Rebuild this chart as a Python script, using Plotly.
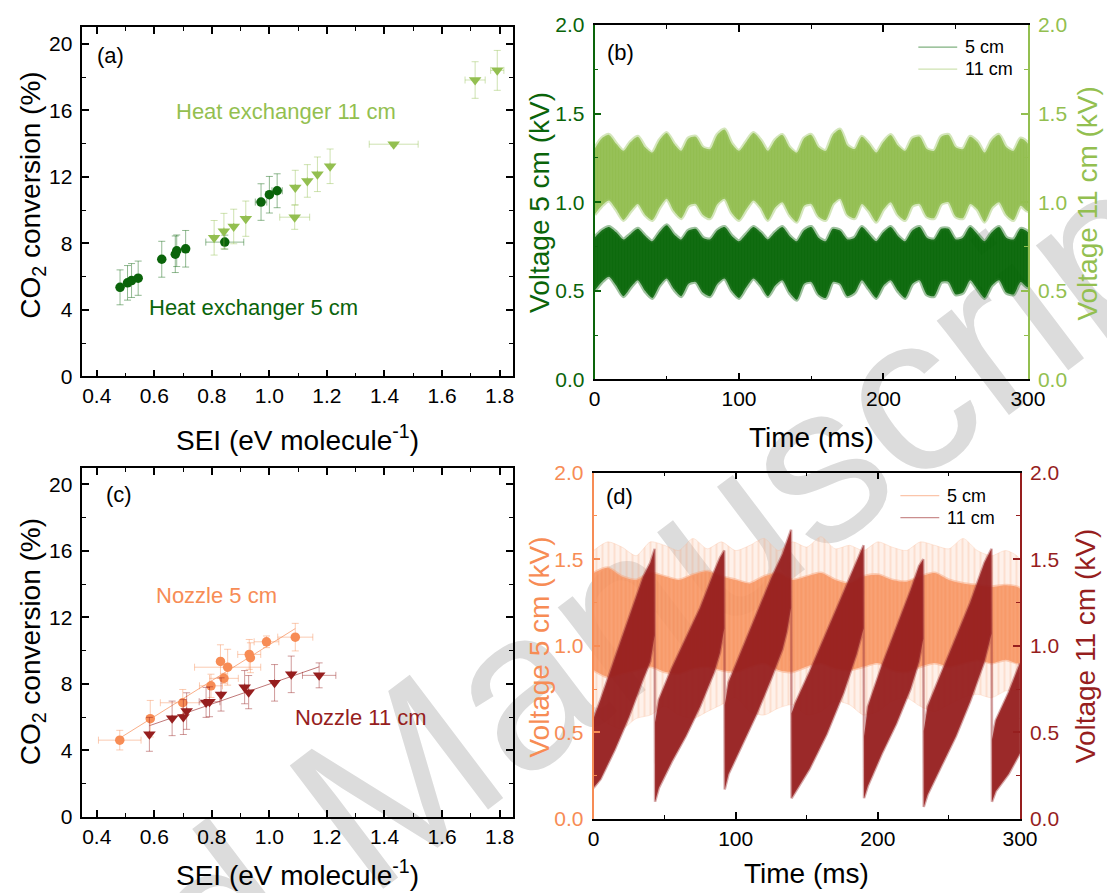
import numpy as np
import plotly.graph_objects as go

# ---------------- Panel (a): heat exchanger ----------------
hx5_sei = [0.481, 0.507, 0.521, 0.544, 0.626, 0.673, 0.678, 0.709, 0.845, 0.971, 1.000, 1.027]
hx5_conv = [5.36, 5.63, 5.77, 5.91, 7.05, 7.35, 7.56, 7.68, 8.08, 10.49, 10.93, 11.17]
hx5_sei_err = [0, 0, 0, 0, 0, 0, 0, 0, 0.066, 0.02, 0, 0.018]
hx5_conv_err = [1.05, 1.04, 1.02, 1.03, 1.08, 1.10, 0.95, 1.10, 0.42, 1.10, 1.10, 1.02]

hx11_sei = [0.808, 0.842, 0.876, 0.918, 1.088, 1.090, 1.132, 1.167, 1.211, 1.432, 1.715, 1.792]
hx11_conv = [8.34, 8.74, 9.02, 9.49, 9.58, 11.36, 11.76, 12.16, 12.64, 13.97, 17.83, 18.41]
hx11_sei_err = [0, 0, 0, 0, 0.052, 0, 0, 0, 0, 0.085, 0.035, 0.023]
hx11_conv_err = [1.04, 1.07, 1.04, 1.06, 0.73, 1.04, 0.98, 1.04, 1.04, 0.10, 1.10, 1.20]

# ---------------- Panel (c): nozzle ----------------
nz5_sei = [0.480, 0.586, 0.699, 0.797, 0.842, 0.830, 0.855, 0.930, 0.934, 0.990, 1.090]
nz5_conv = [4.61, 5.90, 6.86, 7.88, 8.33, 9.35, 9.00, 9.77, 9.57, 10.53, 10.81]
nz5_sei_err = [0.074, 0, 0.078, 0.04, 0.05, 0, 0.115, 0.04, 0, 0.043, 0.061]
nz5_conv_err = [0.59, 1.10, 0.80, 0.70, 0.30, 1.00, 1.08, 0.90, 0.90, 0.35, 0.83]

nz11_sei = [0.583, 0.662, 0.701, 0.7125, 0.780, 0.792, 0.832, 0.914, 0.928, 1.018, 1.076, 1.173]
nz11_conv = [4.96, 5.92, 6.00, 6.36, 6.88, 6.92, 7.36, 7.80, 7.50, 8.06, 8.57, 8.51]
nz11_sei_err = [0, 0, 0, 0, 0, 0.036, 0, 0, 0, 0, 0, 0.058]
nz11_conv_err = [1.02, 1.04, 1.05, 1.10, 0.90, 0.90, 1.00, 1.00, 1.00, 1.10, 1.10, 0.75]

# ---------------- Panel (b): voltage envelopes, heat exchanger ----------------
time_b_ms = [0, 5, 10, 15, 20, 25, 30, 35, 40, 45, 50, 55, 60, 65, 70, 75, 80, 85, 90, 95, 100,
             105, 110, 115, 120, 125, 130, 135, 140, 145, 150, 155, 160, 165, 170, 175, 180, 185, 190, 195, 200,
             205, 210, 215, 220, 225, 230, 235, 240, 245, 250, 255, 260, 265, 270, 275, 280, 285, 290, 295, 300]
hx5_v_upper = [0.80, 0.84, 0.86, 0.83, 0.79, 0.82, 0.85, 0.81, 0.78, 0.83, 0.87, 0.82, 0.79, 0.84, 0.85, 0.80, 0.79, 0.84, 0.86, 0.81, 0.78,
               0.82, 0.86, 0.83, 0.79, 0.83, 0.86, 0.81, 0.78, 0.84, 0.86, 0.80, 0.78, 0.85, 0.84, 0.79, 0.80, 0.86, 0.82, 0.78, 0.83,
               0.86, 0.81, 0.78, 0.84, 0.86, 0.80, 0.79, 0.85, 0.85, 0.79, 0.80, 0.86, 0.82, 0.78, 0.83, 0.86, 0.80, 0.79, 0.85, 0.83]
hx5_v_lower = [0.50, 0.55, 0.58, 0.53, 0.47, 0.52, 0.56, 0.50, 0.46, 0.53, 0.57, 0.51, 0.47, 0.54, 0.55, 0.49, 0.47, 0.54, 0.57, 0.50, 0.46,
               0.52, 0.57, 0.53, 0.47, 0.53, 0.56, 0.49, 0.45, 0.54, 0.55, 0.48, 0.46, 0.55, 0.54, 0.47, 0.49, 0.56, 0.51, 0.46, 0.53,
               0.56, 0.50, 0.46, 0.54, 0.56, 0.48, 0.47, 0.55, 0.55, 0.48, 0.49, 0.56, 0.51, 0.46, 0.53, 0.56, 0.49, 0.48, 0.55, 0.52]
hx11_v_upper = [1.30, 1.36, 1.38, 1.33, 1.29, 1.34, 1.37, 1.31, 1.28, 1.35, 1.39, 1.33, 1.29, 1.36, 1.37, 1.31, 1.30, 1.38, 1.41, 1.33, 1.29,
                1.34, 1.39, 1.35, 1.29, 1.35, 1.38, 1.31, 1.28, 1.36, 1.38, 1.31, 1.29, 1.38, 1.41, 1.32, 1.30, 1.37, 1.33, 1.28, 1.34,
                1.38, 1.32, 1.29, 1.36, 1.37, 1.30, 1.29, 1.37, 1.38, 1.31, 1.30, 1.37, 1.34, 1.28, 1.35, 1.38, 1.31, 1.29, 1.36, 1.33]
hx11_v_lower = [0.93, 0.98, 1.01, 0.96, 0.90, 0.95, 0.99, 0.93, 0.90, 0.97, 1.02, 0.95, 0.91, 0.98, 0.99, 0.93, 0.91, 0.99, 1.02, 0.94, 0.90,
                0.96, 1.01, 0.97, 0.90, 0.97, 1.00, 0.93, 0.89, 0.98, 0.99, 0.92, 0.90, 0.99, 1.02, 0.93, 0.91, 0.99, 0.95, 0.89, 0.96,
                1.00, 0.93, 0.90, 0.98, 0.99, 0.92, 0.91, 0.99, 1.00, 0.92, 0.91, 0.99, 0.96, 0.89, 0.97, 1.00, 0.93, 0.90, 0.98, 0.95]

# ---------------- Panel (d): voltage envelopes, nozzle ----------------
time_d5_ms = [0, 10, 20, 30, 40, 50, 60, 70, 80, 90, 100, 110, 120, 130, 140, 150,
              160, 170, 180, 190, 200, 210, 220, 230, 240, 250, 260, 270, 280, 290, 300]
nz5_v_spike_upper = [1.55, 1.60, 1.57, 1.52, 1.60, 1.58, 1.55, 1.62, 1.56, 1.60, 1.55, 1.58, 1.62, 1.55, 1.60, 1.57,
                     1.63, 1.56, 1.58, 1.55, 1.60, 1.57, 1.55, 1.60, 1.58, 1.56, 1.62, 1.55, 1.52, 1.55, 1.50]
nz5_v_spike_lower = [0.62, 0.55, 0.52, 0.58, 0.60, 0.65, 0.60, 0.58, 0.62, 0.66, 0.70, 0.62, 0.60, 0.64, 0.66, 0.60,
                     0.62, 0.68, 0.66, 0.60, 0.62, 0.68, 0.70, 0.65, 0.62, 0.66, 0.70, 0.72, 0.70, 0.74, 0.75]
nz5_v_core_upper = [1.42, 1.45, 1.40, 1.38, 1.42, 1.40, 1.38, 1.41, 1.43, 1.40, 1.38, 1.36, 1.40, 1.42, 1.38, 1.40,
                    1.42, 1.38, 1.36, 1.40, 1.41, 1.38, 1.37, 1.40, 1.42, 1.38, 1.36, 1.35, 1.34, 1.35, 1.33]
nz5_v_core_lower = [0.86, 0.82, 0.84, 0.86, 0.88, 0.85, 0.84, 0.87, 0.88, 0.86, 0.85, 0.88, 0.90, 0.86, 0.85, 0.88,
                    0.90, 0.87, 0.86, 0.88, 0.90, 0.86, 0.85, 0.88, 0.90, 0.88, 0.90, 0.92, 0.90, 0.92, 0.90]

time_d11_ms = [0, 5, 15, 25, 35, 40, 43, 43.3, 46, 55, 65, 75, 85, 89, 92, 92.3, 95, 105, 115, 125, 133, 136, 139,
               139.3, 142, 152, 164, 176, 185, 190, 190.3, 193, 203, 213, 223, 229, 232, 232.3, 235, 245, 255, 265,
               275, 280, 280.3, 283, 292, 300]
nz11_v_upper = [0.58, 0.69, 0.93, 1.17, 1.40, 1.48, 1.56, 0.56, 0.69, 0.87, 1.05, 1.22, 1.43, 1.51, 1.55, 0.66, 0.79, 0.99,
                1.19, 1.39, 1.53, 1.60, 1.67, 0.61, 0.67, 0.85, 1.08, 1.31, 1.48, 1.58, 0.48, 0.65, 0.89, 1.10, 1.32, 1.46,
                1.50, 0.51, 0.65, 0.85, 1.05, 1.25, 1.48, 1.56, 0.46, 0.57, 0.73, 0.90]
nz11_v_lower = [0.18, 0.23, 0.40, 0.59, 0.81, 0.91, 1.06, 0.10, 0.18, 0.33, 0.48, 0.65, 0.85, 0.96, 1.10, 0.17, 0.26, 0.43,
                0.61, 0.81, 0.98, 1.08, 1.22, 0.12, 0.16, 0.29, 0.49, 0.73, 0.95, 1.10, 0.12, 0.19, 0.38, 0.55, 0.75, 0.91,
                1.04, 0.07, 0.14, 0.31, 0.48, 0.68, 0.91, 1.07, 0.10, 0.16, 0.26, 0.38]

# ---------------- Styling constants ----------------
W, H = 1115, 893
FONT = "Arial, Liberation Sans, sans-serif"
DKGREEN = "#0a640a"
LTGREEN = "#93bf50"
ORANGE = "#f78c55"
DKRED = "#961e1e"


# map a position measured on the reference picture to figure pixels
def fx(x):
    return (x - 14.4) / 0.982


def fy(y):
    return (y - 20.0) / 0.973


def px(x):
    return fx(x) / W


def py(y):
    return 1 - fy(y) / H


fig = go.Figure()

# Panel (a)
fig.add_trace(go.Scatter(
    x=hx5_sei, y=hx5_conv, mode="markers", xaxis="x", yaxis="y",
    marker=dict(symbol="circle", size=9.5, color=DKGREEN),
    error_x=dict(type="data", array=hx5_sei_err, color="rgba(10,100,10,0.45)", thickness=1, width=3.5),
    error_y=dict(type="data", array=hx5_conv_err, color="rgba(10,100,10,0.45)", thickness=1, width=3.5),
    showlegend=False))
fig.add_trace(go.Scatter(
    x=hx11_sei, y=hx11_conv, mode="markers", xaxis="x", yaxis="y",
    marker=dict(symbol="triangle-down", size=11, color=LTGREEN),
    error_x=dict(type="data", array=hx11_sei_err, color="rgba(147,191,80,0.45)", thickness=1, width=3.5),
    error_y=dict(type="data", array=hx11_conv_err, color="rgba(147,191,80,0.45)", thickness=1, width=3.5),
    showlegend=False))

# Panel (c) with linear trend lines
for xs, ys, rgba in [(nz5_sei, nz5_conv, "rgba(247,140,85,0.7)"),
                     (nz11_sei, nz11_conv, "rgba(150,30,30,0.6)")]:
    k, b = np.polyfit(xs, ys, 1)
    xl = [min(xs), max(xs)]
    fig.add_trace(go.Scatter(x=xl, y=[k * v + b for v in xl], mode="lines", xaxis="x3", yaxis="y4",
                             line=dict(color=rgba, width=1), showlegend=False, hoverinfo="skip"))

fig.add_trace(go.Scatter(
    x=nz5_sei, y=nz5_conv, mode="markers", xaxis="x3", yaxis="y4",
    marker=dict(symbol="circle", size=9.5, color=ORANGE),
    error_x=dict(type="data", array=nz5_sei_err, color="rgba(247,140,85,0.45)", thickness=1, width=3.5),
    error_y=dict(type="data", array=nz5_conv_err, color="rgba(247,140,85,0.45)", thickness=1, width=3.5),
    showlegend=False))
fig.add_trace(go.Scatter(
    x=nz11_sei, y=nz11_conv, mode="markers", xaxis="x3", yaxis="y4",
    marker=dict(symbol="triangle-down", size=11, color=DKRED),
    error_x=dict(type="data", array=nz11_sei_err, color="rgba(150,30,30,0.45)", thickness=1, width=3.5),
    error_y=dict(type="data", array=nz11_conv_err, color="rgba(150,30,30,0.45)", thickness=1, width=3.5),
    showlegend=False))


def band(t, lo, up, xa, ya, fill, edge, pattern=None, edge_width=1, shape="linear"):
    kw = {}
    if pattern is not None:
        kw["fillpattern"] = pattern
    line = dict(color=edge, width=edge_width, shape=shape)
    if shape == "spline":
        line["smoothing"] = 0.7
    fig.add_trace(go.Scatter(
        x=list(t) + list(t)[::-1], y=list(up) + list(lo)[::-1], mode="lines",
        fill="toself", fillcolor=fill, line=line,
        xaxis=xa, yaxis=ya, showlegend=False, hoverinfo="skip", **kw))


# Panel (b)
band(time_b_ms, hx5_v_lower, hx5_v_upper, "x2", "y2", "rgba(0,100,0,0.92)", "rgba(40,120,40,0.45)",
     pattern=dict(shape="|", fgcolor="rgba(60,135,60,0.55)", bgcolor="rgba(0,98,0,0.95)", size=3, solidity=0.2),
     edge_width=4, shape="spline")
band(time_b_ms, hx11_v_lower, hx11_v_upper, "x2", "y3", "rgba(143,188,75,0.92)", "rgba(160,200,105,0.45)",
     pattern=dict(shape="|", fgcolor="rgba(190,220,150,0.55)", bgcolor="rgba(141,186,72,0.95)", size=3, solidity=0.2),
     edge_width=4, shape="spline")

# Panel (d)
band(time_d5_ms, nz5_v_spike_lower, nz5_v_spike_upper, "x4", "y5", "rgba(250,190,155,0.3)",
     "rgba(250,180,140,0.25)",
     pattern=dict(shape="|", fgcolor="rgba(247,140,85,0.6)", bgcolor="rgba(252,210,185,0.3)", size=6, solidity=0.2),
     shape="spline")
band(time_d5_ms, nz5_v_core_lower, nz5_v_core_upper, "x4", "y5", "rgba(248,145,92,0.85)", "rgba(248,160,115,0.45)",
     pattern=dict(shape="|", fgcolor="rgba(252,190,155,0.7)", bgcolor="rgba(247,140,85,0.85)", size=4, solidity=0.3),
     edge_width=3, shape="spline")
band(time_d11_ms, nz11_v_lower, nz11_v_upper, "x4", "y6", "rgba(150,30,30,0.95)", "rgba(165,60,60,0.45)",
     edge_width=2.5)

# ---------------- Axes ----------------
box_common = dict(showline=True, linecolor="black", linewidth=1.5, mirror="ticks", ticks="inside",
                  ticklen=7, tickwidth=1.5, tickcolor="black", showgrid=False, zeroline=False,
                  tickfont=dict(family=FONT, size=21, color="black"))

dom_a_x = [px(83), px(515)]
dom_a_y = [py(376), py(27.3)]
dom_c_x = [px(83), px(515)]
dom_c_y = [py(815.7), py(467.3)]
dom_b_x = [px(597), px(1032)]
dom_b_y = [py(379), py(25)]
dom_d_x = [px(596), px(1024)]
dom_d_y = [py(818), py(472)]

sei_axis = dict(range=[0.35, 1.846], tick0=0.4, dtick=0.2, tickformat=".1f",
                minor=dict(dtick=0.1, tick0=0.4, ticklen=4, tickwidth=1.2, ticks="inside", tickcolor="black"))
conv_axis = dict(range=[0, 21], tick0=0, dtick=4,
                 minor=dict(dtick=2, tick0=0, ticklen=4, tickwidth=1.2, ticks="inside", tickcolor="black"))

fig.update_layout(
    xaxis=dict(domain=dom_a_x, anchor="y", **sei_axis, **box_common),
    yaxis=dict(domain=dom_a_y, anchor="x", ticklabelstandoff=4, **conv_axis, **box_common),
    xaxis3=dict(domain=dom_c_x, anchor="y4", **sei_axis, **box_common),
    yaxis4=dict(domain=dom_c_y, anchor="x3", ticklabelstandoff=4, **conv_axis, **box_common),
)


def time_axis(dom, anchor):
    return dict(domain=dom, anchor=anchor, range=[0, 300], tick0=0, dtick=100,
                minor=dict(dtick=50, tick0=0, ticklen=4, tickwidth=1.2, ticks="inside", tickcolor="black"),
                **box_common)


def volt_axis(dom, anchor, color, side, overlay=None):
    d = dict(anchor=anchor, range=[0, 2], tick0=0, dtick=0.5, tickformat=".1f", side=side,
             showline=True, linecolor=color, linewidth=1.5, mirror=False, ticks="inside",
             ticklen=7, tickwidth=1.5, tickcolor=color, showgrid=False, zeroline=False,
             ticklabelstandoff=4,
             tickfont=dict(family=FONT, size=21, color=color),
             minor=dict(dtick=0.25, tick0=0, ticklen=4, tickwidth=1.2, ticks="inside", tickcolor=color))
    if overlay:
        d["overlaying"] = overlay
    else:
        d["domain"] = dom
    return d


fig.update_layout(
    xaxis2=time_axis(dom_b_x, "y2"),
    yaxis2=volt_axis(dom_b_y, "x2", DKGREEN, "left"),
    yaxis3=volt_axis(dom_b_y, "x2", LTGREEN, "right", overlay="y2"),
    xaxis4=time_axis(dom_d_x, "y5"),
    yaxis5=volt_axis(dom_d_y, "x4", ORANGE, "left"),
    yaxis6=volt_axis(dom_d_y, "x4", DKRED, "right", overlay="y5"),
)

# ---------------- Text ----------------
ann = []


def txt(x, y, s, size, color="black", angle=0, xanchor="center", xref="paper", yref="paper"):
    ann.append(dict(x=x, y=y, xref=xref, yref=yref, text=s, showarrow=False, textangle=angle,
                    xanchor=xanchor, yanchor="middle", font=dict(family=FONT, size=size, color=color)))


BOTTOM_TITLE = 1 - 876 / H   # kept just inside the lower edge
RIGHT_TITLE = 1097 / W       # kept just inside the right edge

# axis titles
txt(px(33), py(195), "CO<sub>2</sub> conversion (%)", 28, angle=-90)
txt(px(299), py(437), "SEI (eV molecule<sup>-1</sup>)", 28)
txt(px(33), py(641), "CO<sub>2</sub> conversion (%)", 28, angle=-90)
txt(px(299), BOTTOM_TITLE, "SEI (eV molecule<sup>-1</sup>)", 28)
txt(px(542), py(202), "Voltage 5 cm (kV)", 28, DKGREEN, angle=-90)
txt(RIGHT_TITLE, py(203), "Voltage 11 cm (kV)", 28, LTGREEN, angle=-90)
txt(px(815), py(437), "Time (ms)", 28)
txt(px(542), py(646), "Voltage 5 cm (kV)", 28, ORANGE, angle=-90)
txt(RIGHT_TITLE - 2 / W, py(645), "Voltage 11 cm (kV)", 28, DKRED, angle=-90)
txt(px(810), BOTTOM_TITLE, "Time (ms)", 28)

# panel letters
txt(px(111), py(55), "(a)", 22)
txt(px(120), py(494), "(c)", 22)
txt(px(623), py(52), "(b)", 22)
txt(px(622), py(496), "(d)", 22)

# series labels (data coords)
txt(1.059, 15.96, "Heat exchanger 11 cm", 22, LTGREEN, xref="x", yref="y")
txt(0.946, 4.14, "Heat exchanger 5 cm", 22, DKGREEN, xref="x", yref="y")
txt(0.816, 13.34, "Nozzle 5 cm", 22, ORANGE, xref="x3", yref="y4")
txt(1.319, 6.0, "Nozzle 11 cm", 22, DKRED, xref="x3", yref="y4")

# legends (drawn manually)
shapes = []
legend_items = [
    (922, 961, 967, 47, "5 cm", "rgba(0,100,0,0.5)"),
    (922, 961, 967, 69, "11 cm", "rgba(147,191,80,0.45)"),
    (904, 943, 949, 495, "5 cm", "rgba(247,140,85,0.5)"),
    (904, 943, 949, 517, "11 cm", "rgba(150,30,30,0.5)"),
]
for x0, x1, xt, yy, label, col in legend_items:
    shapes.append(dict(type="line", xref="paper", yref="paper", x0=px(x0), x1=px(x1), y0=py(yy), y1=py(yy),
                       line=dict(color=col, width=1.2)))
    txt(px(xt), py(yy), label, 18, xanchor="left")

# watermark (behind everything)
cx, cy, ux, uy = 350, 790, 0.799, 0.602
shapes.append(dict(type="line", xref="paper", yref="paper", layer="below",
                   x0=px(cx - 300 * ux), x1=px(cx + 300 * ux),
                   y0=py(cy + 300 * uy), y1=py(cy - 300 * uy),
                   line=dict(color="rgba(0,0,0,0)", width=0),
                   label=dict(text="Accepted Manuscript", textposition="middle", yanchor="middle",
                              font=dict(family=FONT, size=225, color="#dcdcdc"))))

fig.update_layout(
    width=W, height=H, autosize=False,
    margin=dict(l=0, r=0, t=0, b=0),
    paper_bgcolor="white", plot_bgcolor="rgba(0,0,0,0)",
    showlegend=False,
    annotations=ann, shapes=shapes,
    font=dict(family=FONT),
)

fig.write_html("out.html")
